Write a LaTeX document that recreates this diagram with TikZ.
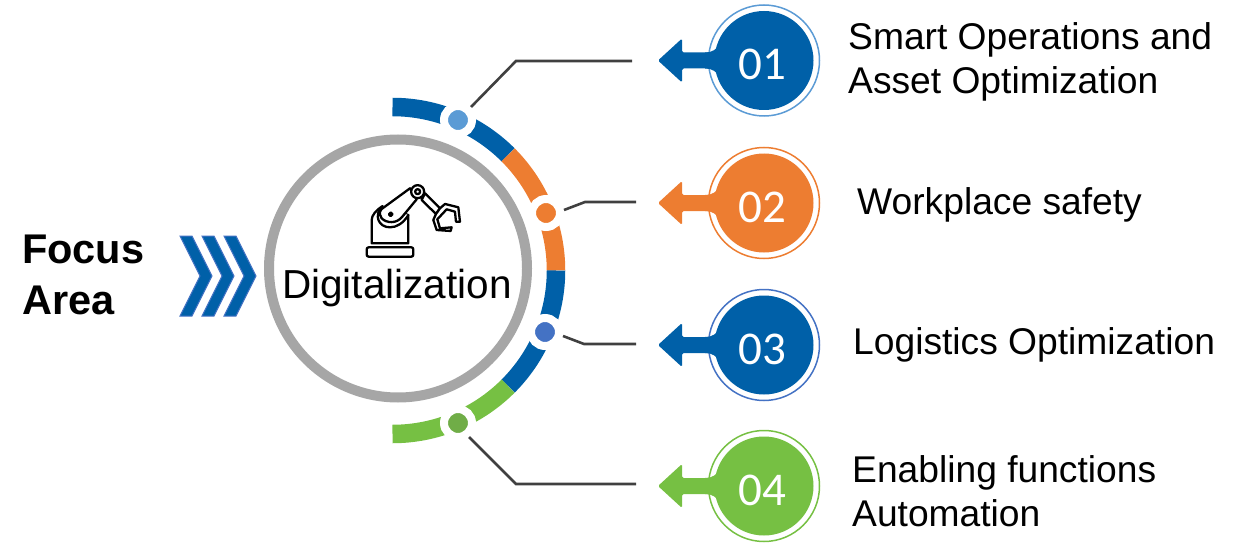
\documentclass[tikz,border=0pt]{standalone}
\usepackage{fontspec}
\setmainfont{Liberation Sans}
\newfontfamily\digitfont{Carlito}
\definecolor{cblue}{HTML}{0060A8}
\definecolor{corange}{HTML}{ED7D31}
\definecolor{cgreen}{HTML}{76C043}
\definecolor{dblue}{HTML}{5B9BD5}
\definecolor{dindigo}{HTML}{4472C4}
\definecolor{dgreen}{HTML}{70AD47}
\definecolor{cgray}{HTML}{A6A6A6}
\definecolor{cline}{HTML}{404040}
\tikzset{
  ringarc/.style={line width=18.5pt},
  dotnode/.style={circle,draw=white,line width=8pt,minimum size=28pt,inner sep=0pt},
  leader/.style={draw=cline,line width=2.6pt},
  badgering/.style={circle,draw,line width=1.5pt,fill=white,minimum size=111pt,inner sep=0pt},
  badgedisc/.style={circle,minimum size=99pt,inner sep=0pt},
  badgetext/.style={inner sep=0pt,text=white,font=\digitfont\fontsize{47}{47}\selectfont},
  label/.style={anchor=west,align=left,inner sep=0pt,font=\fontsize{37.2}{44.5}\selectfont},
  chev/.style={fill=cblue,draw=dindigo,line width=1pt,line join=miter},
  robot/.style={draw=black,line width=2.3pt,fill=white,line join=round,line cap=round}
}
\begin{document}
\begin{tikzpicture}[x=1pt,y=1pt]
\useasboundingbox (0,0) rectangle (1248,542);
% outer segmented ring
\coordinate (c) at (392.5,271.5);
\draw[ringarc,cblue] ([shift={(90:163.5pt)}]c) arc[start angle=90,end angle=45,radius=163.5pt];
\draw[ringarc,corange] ([shift={(45:163.5pt)}]c) arc[start angle=45,end angle=0,radius=163.5pt];
\draw[ringarc,cblue] ([shift={(0:163.5pt)}]c) arc[start angle=0,end angle=-45,radius=163.5pt];
\draw[ringarc,cgreen] ([shift={(-45:163.5pt)}]c) arc[start angle=-45,end angle=-90,radius=163.5pt];
% central circle
\node[circle,draw=cgray,line width=10pt,fill=white,minimum size=258pt,inner sep=0pt] (hub) at (398,273.5) {};
\node[inner sep=0pt,anchor=base,font=\fontsize{40.5}{40}\selectfont] (hubtext) at (397,244) {Digitalization};
% dots
\node[dotnode,fill=dblue] (d1) at (458,422) {};
\node[dotnode,fill=corange] (d2) at (546,329) {};
\node[dotnode,fill=dindigo] (d3) at (545,210) {};
\node[dotnode,fill=dgreen] (d4) at (458,119) {};
% badges
\foreach \n/\y/\col/\ringcol/\txt in {1/481.5/cblue/dblue/01,2/339/corange/corange/02,3/197/cblue/dindigo/03,4/56/cgreen/cgreen/04}{
  \node[badgering,draw=\ringcol] (r\n) at (764,\y) {};
  \fill[\col,rounded corners=1.5pt] (658,\y) -- (682,\y+22) -- (682,\y+8) -- (710,\y+8) -- (710,\y-8) -- (682,\y-8) -- (682,\y-22) -- cycle;
  \fill[\col] (705,\y+8) .. controls (712,\y+8) and (716,\y+10) .. (722,\y+20) -- (722,\y-20) .. controls (716,\y-10) and (712,\y-8) .. (705,\y-8) -- cycle;
  \node[badgedisc,fill=\col] (b\n) at (764,\y) {};
  \node[badgetext] (n\n) at (762,\y-4) {\txt};
}
% leaders
\coordinate (l1a) at (471,435); \coordinate (l1b) at (516,481); \coordinate (l1c) at (632,481);
\coordinate (l2a) at (564,332); \coordinate (l2b) at (585,340); \coordinate (l2c) at (636,340);
\coordinate (l3a) at (563,206); \coordinate (l3b) at (584,198); \coordinate (l3c) at (636,198);
\coordinate (l4a) at (469,105); \coordinate (l4b) at (516,58);  \coordinate (l4c) at (636,58);
\draw[leader] (l1a) -- (l1b) -- (l1c);
\draw[leader] (l2a) -- (l2b) -- (l2c);
\draw[leader] (l3a) -- (l3b) -- (l3c);
\draw[leader] (l4a) -- (l4b) -- (l4c);
% labels
\node[label] (t1) at (848,480) {Smart Operations and\\Asset Optimization};
\node[label] (t2) at (857,337) {Workplace safety};
\node[label] (t3) at (853,197) {Logistics Optimization};
\node[label] (t4) at (852,51) {Enabling functions\\Automation};
\node[anchor=west,align=left,inner sep=0pt,font=\bfseries\fontsize{41.5}{51}\selectfont] (focus) at (22,267) {Focus\\Area};
% chevrons
\foreach \s in {0,22,44}{
  \draw[chev] (180+\s,306) -- (192+\s,306) -- (212+\s,266) -- (192+\s,226) -- (180+\s,226) -- (200+\s,266) -- cycle;
}
% robot icon (coordinates read from a 3x crop)
\begin{scope}[shift={(240,422)},x=.3333pt,y=-.3333pt]
  \draw[robot,rounded corners=2pt] (380,382) rectangle (520,410);
  \draw[robot] (395,370) -- (395,300) .. controls (395,285) and (410,270) .. (425,260) -- (505,285) -- (505,370) -- cycle;
  \draw[robot] (428,258) .. controls (400,285) and (415,322) .. (450,322) .. controls (470,322) and (490,310) .. (505,285);
  \draw[robot] (555,220) -- (600,265) -- (588,282) -- (545,240) -- cycle;
  \draw[robot] (432,262) -- (510,205) -- (530,238) -- (487,290) .. controls (470,312) and (440,310) .. (425,295) .. controls (415,280) and (420,268) .. (432,262) -- cycle;
  \draw[robot] (533,215) circle[radius=6.5pt];
  \draw[robot] (533,215) circle[radius=2.5pt];
  \draw[robot] (452,283) circle[radius=1.8pt];
  \draw[robot] (600,265) -- (615,252) -- (655,262) -- (660,305) -- (648,305) -- (645,275) -- (620,268) -- (592,298) -- (600,325) -- (635,322) -- (632,333) -- (590,330) -- (580,300) -- (588,282) -- cycle;
\end{scope}
\end{tikzpicture}
\end{document}
